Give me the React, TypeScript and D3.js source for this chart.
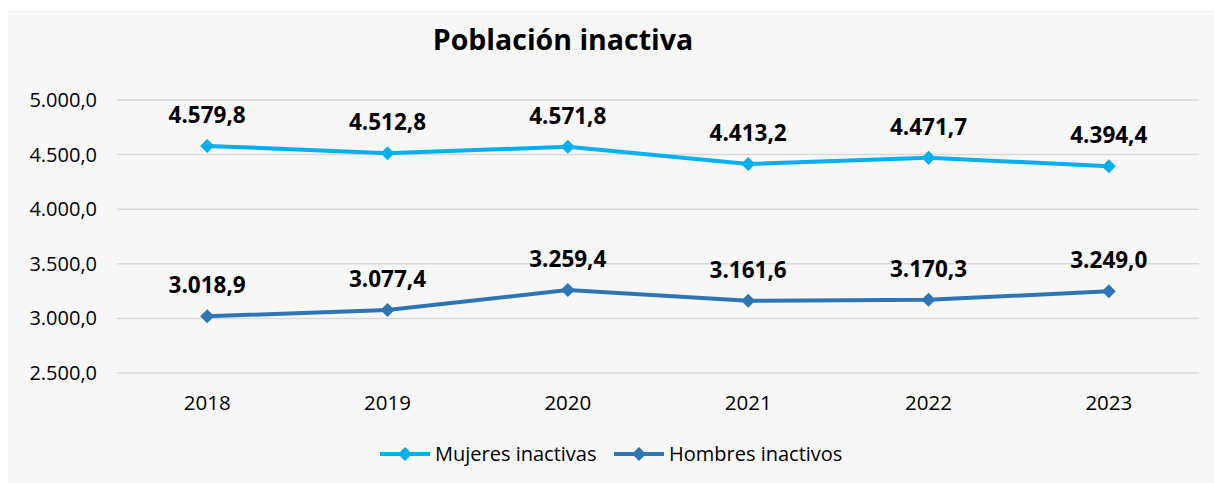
import React from "react";
import * as d3 from "d3";

const years = ["2018", "2019", "2020", "2021", "2022", "2023"];
const mujeres = [4579.8, 4512.8, 4571.8, 4413.2, 4471.7, 4394.4];
const hombres = [3018.9, 3077.4, 3259.4, 3161.6, 3170.3, 3249.0];
const yTicks = [2500, 3000, 3500, 4000, 4500, 5000];

const WIDTH = 1214;
const HEIGHT = 483;
const FONT = "'Open Sans', 'Noto Sans', sans-serif";

const series = [
  { name: "Mujeres inactivas", values: mujeres, color: "#00B0F0" },
  { name: "Hombres inactivos", values: hombres, color: "#2E75B6" },
];

// es-ES style: 4.579,8
const fmt = (v: number) => {
  const [int, dec] = v.toFixed(1).split(".");
  return int.replace(/\B(?=(\d{3})+(?!\d))/g, ".") + "," + dec;
};

const Diamond = ({ x, y, color, r = 7 }: { x: number; y: number; color: string; r?: number }) => (
  <path d={`M${x},${y - r}L${x + r},${y}L${x},${y + r}L${x - r},${y}Z`} fill={color} />
);

export default function App() {
  const x = d3.scalePoint<string>().domain(years).range([117, 1199]).padding(0.5);
  const y = d3.scaleLinear().domain([2500, 5000]).range([373, 100]);

  const line = d3
    .line<number>()
    .x((_, i) => x(years[i]) as number)
    .y((d) => y(d));

  const legend = [
    { ...series[0], x0: 380 },
    { ...series[1], x0: 614 },
  ];

  return (
    <svg
      width={WIDTH}
      height={HEIGHT}
      style={{ position: "absolute", left: 0, top: 0, display: "block" }}
      fontFamily={FONT}
    >
      <rect x={0} y={0} width={WIDTH} height={HEIGHT} fill="#ffffff" />
      <rect x={8} y={10} width={WIDTH - 8} height={HEIGHT - 10} fill="#f7f7f7" />

      <text x={563} y={50} textAnchor="middle" fontSize={28.5} fontWeight="bold" fill="#000">
        Población inactiva
      </text>

      {yTicks.map((t) => (
        <g key={t}>
          <line x1={117} x2={1199} y1={y(t)} y2={y(t)} stroke="#d9d9d9" strokeWidth={1.5} />
          <text x={97} y={y(t)} dy="0.35em" textAnchor="end" fontSize={20} fill="#000">
            {fmt(t)}
          </text>
        </g>
      ))}

      {years.map((yr) => (
        <text key={yr} x={x(yr)} y={403} dy="0.35em" textAnchor="middle" fontSize={20.5} fill="#000">
          {yr}
        </text>
      ))}

      {series.map((s) => (
        <g key={s.name}>
          <path d={line(s.values) || ""} fill="none" stroke={s.color} strokeWidth={4} />
          {s.values.map((v, i) => (
            <Diamond key={i} x={x(years[i]) as number} y={y(v)} color={s.color} />
          ))}
          {s.values.map((v, i) => (
            <text
              key={"l" + i}
              x={x(years[i])}
              y={y(v) - 31}
              dy="0.35em"
              textAnchor="middle"
              fontSize={22.5}
              fontWeight="bold"
              fill="#000"
            >
              {fmt(v)}
            </text>
          ))}
        </g>
      ))}

      {legend.map((l) => (
        <g key={l.name}>
          <line x1={l.x0} x2={l.x0 + 50} y1={454} y2={454} stroke={l.color} strokeWidth={4} />
          <Diamond x={l.x0 + 25} y={454} color={l.color} />
          <text x={l.x0 + 55} y={454} dy="0.35em" fontSize={20} fill="#000">
            {l.name}
          </text>
        </g>
      ))}
    </svg>
  );
}
